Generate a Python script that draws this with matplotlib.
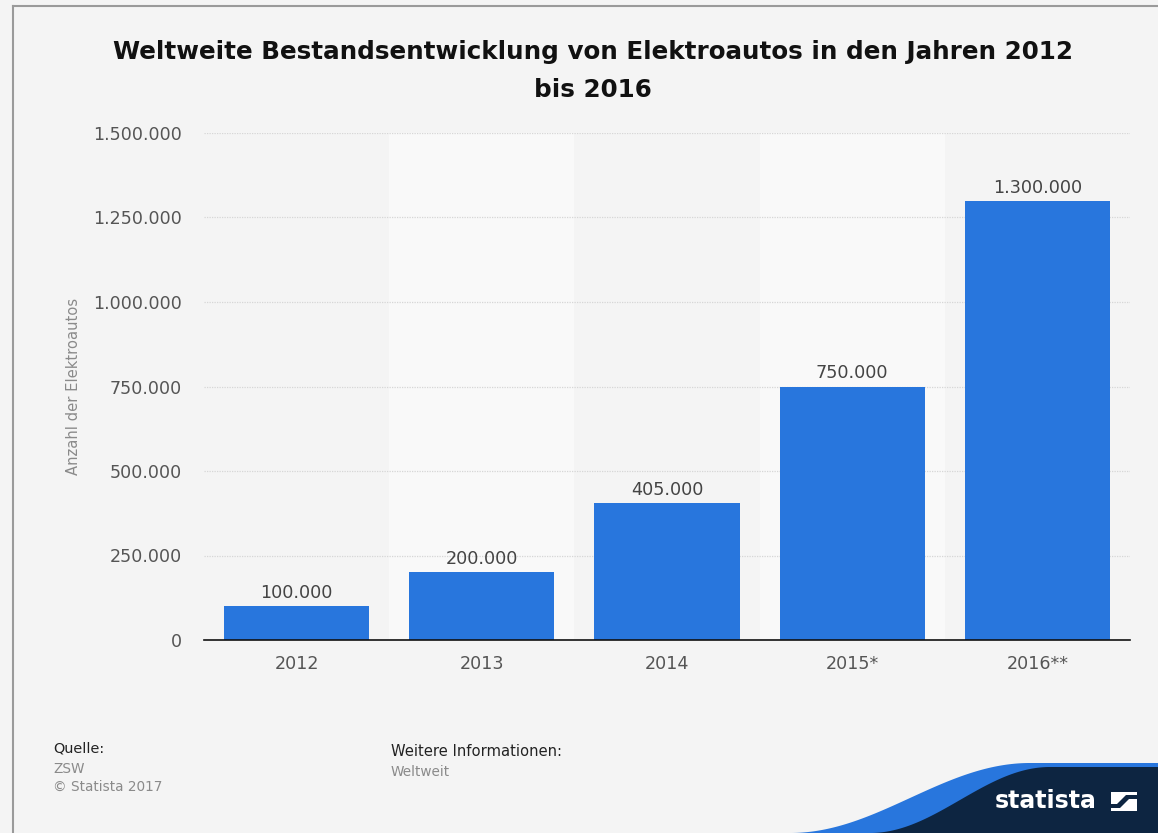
import matplotlib
matplotlib.use("Agg")
import matplotlib.pyplot as plt
from matplotlib.patches import Polygon, Rectangle
from matplotlib.lines import Line2D
import numpy as np

plt.rcParams["font.family"] = ["DejaVu Sans"]

years = ["2012", "2013", "2014", "2015*", "2016**"]
values = [100000, 200000, 405000, 750000, 1300000]
yticks = [0, 250000, 500000, 750000, 1000000, 1250000, 1500000]

title = "Weltweite Bestandsentwicklung von Elektroautos in den Jahren 2012\nbis 2016"
ylabel = "Anzahl der Elektroautos"

BG = "#f4f4f4"
BAR = "#2876dd"
NAVY = "#0d2541"


def fmt(v):
    return f"{v:,.0f}".replace(",", ".")


W, H = 1158, 833
fig = plt.figure(figsize=(W / 100, H / 100), dpi=100, facecolor=BG)


def fpt(px, py):
    return (px / W, 1 - py / H)


# frame lines on top and left
fig.add_artist(Line2D([13 / W, 1], [1 - 6 / H, 1 - 6 / H], color="#9a9a9a", lw=1.5, transform=fig.transFigure))
fig.add_artist(Line2D([13 / W, 13 / W], [0, 1 - 6 / H], color="#9a9a9a", lw=1.5, transform=fig.transFigure))

ax = fig.add_axes([204 / W, (H - 640) / H, (1130 - 204) / W, (640 - 133) / H])
ax.set_facecolor(BG)
x = np.arange(len(years))
ax.set_xlim(-0.5, len(years) - 0.5)
ax.set_ylim(0, 1500000)

# alternating column bands
for i in x:
    if i % 2 == 1:
        ax.axvspan(i - 0.5, i + 0.5, color="#f9f9f9", zorder=0, lw=0)

for t in yticks[1:]:
    ax.axhline(t, color="#d6d6d6", lw=0.9, ls=(0, (1, 1)), zorder=1)

bars = ax.bar(x, values, width=0.785, color=BAR, zorder=2)
for xi, v in zip(x, values):
    ax.text(xi, v + 12000, fmt(v), ha="center", va="bottom", fontsize=12.7, color="#444444")

for s in ["top", "right", "left"]:
    ax.spines[s].set_visible(False)
ax.spines["bottom"].set_color("#111111")
ax.spines["bottom"].set_linewidth(1.2)

ax.set_xticks(x)
ax.set_xticklabels(years, fontsize=12.6, color="#555555")
ax.set_yticks(yticks)
ax.set_yticklabels([fmt(t) for t in yticks], fontsize=12.6, color="#555555")
ax.tick_params(axis="both", length=0)
ax.tick_params(axis="x", pad=11)
ax.tick_params(axis="y", pad=16)

fig.text(74 / W, 1 - 386 / H, ylabel, rotation=90, ha="center", va="center", fontsize=10.6, color="#8a8a8a")

fig.text(593 / W, 1 - 71 / H, title, ha="center", va="center", fontsize=17.7, fontweight="bold",
         color="#111111", linespacing=1.72)

# footer
fig.text(53 / W, 1 - 748 / H, "Quelle:", fontsize=10.4, color="#222222", va="center")
fig.text(53 / W, 1 - 769 / H, "ZSW", fontsize=9.8, color="#8a8a8a", va="center")
fig.text(53 / W, 1 - 787 / H, "© Statista 2017", fontsize=9.8, color="#8a8a8a", va="center")
fig.text(391 / W, 1 - 751 / H, "Weitere Informationen:", fontsize=10.6, color="#222222", va="center")
fig.text(391 / W, 1 - 772 / H, "Weltweit", fontsize=9.8, color="#8a8a8a", va="center")

# brand wave in the bottom-right corner
t = np.linspace(0, 1, 200)


def wave(x0, x1, ybot, ytop):
    xs = x0 + (x1 - x0) * t
    s = 0.5 - 0.5 * np.cos(np.pi * t)
    ys = ybot + (ytop - ybot) * s
    return xs, ys


xs, ys = wave(790, 1030, 833, 763)
pts = [fpt(px, py) for px, py in zip(xs, ys)] + [(1, 1 - 763 / H), (1, 0)]
fig.add_artist(Polygon(pts, closed=True, color=BAR, transform=fig.transFigure, lw=0))
xs2, ys2 = wave(870, 1050, 833, 767)
pts2 = [fpt(px, py) for px, py in zip(xs2, ys2)] + [(1, 1 - 767 / H), (1, 0)]
fig.add_artist(Polygon(pts2, closed=True, color=NAVY, transform=fig.transFigure, lw=0))

fig.text(1046 / W, 1 - 801 / H, "statista", fontsize=17, fontweight="bold", color="white",
         ha="center", va="center")
# logo mark
lx0, ly0, w, h = 1111, 792, 26, 19
fig.add_artist(Rectangle(fpt(lx0, ly0 + h), w / W, h / H, color="white",
                         transform=fig.transFigure, lw=0))
cut = [(lx0, ly0 + h - 3), (lx0 + 9, ly0 + h - 3), (lx0 + w - 8, ly0 + 7),
       (lx0 + w, ly0 + 7), (lx0 + w, ly0 + 3), (lx0 + w - 11, ly0 + 3),
       (lx0 + 6, ly0 + h - 7), (lx0, ly0 + h - 7)]
fig.add_artist(Polygon([fpt(a, b) for a, b in cut], closed=True, color=NAVY,
                       transform=fig.transFigure, lw=0))

fig.savefig("out.png", dpi=100, facecolor=BG)
